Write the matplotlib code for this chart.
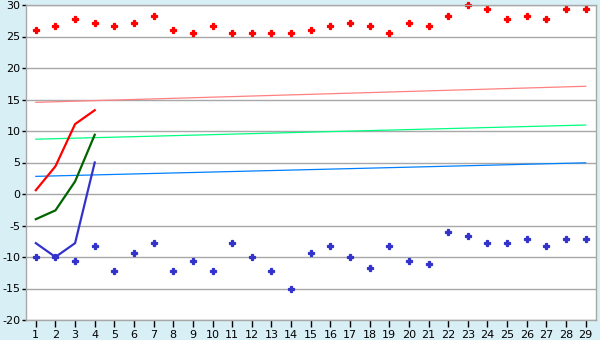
import matplotlib
matplotlib.use("Agg")
import matplotlib.pyplot as plt
import numpy as np

plt.rcParams["axes.unicode_minus"] = False

days = list(range(1, 30))
high_pts = [26.1, 26.7, 27.8, 27.2, 26.7, 27.2, 28.3, 26.1, 25.6, 26.7,
            25.6, 25.6, 25.6, 25.6, 26.1, 26.7, 27.2, 26.7, 25.6, 27.2,
            26.7, 28.3, 30.0, 29.4, 27.8, 28.3, 27.8, 29.4, 29.4]
low_pts = [-10.0, -10.0, -10.6, -8.3, -12.2, -9.4, -7.8, -12.2, -10.6, -12.2,
           -7.8, -10.0, -12.2, -15.0, -9.4, -8.3, -10.0, -11.7, -8.3, -10.6,
           -11.1, -6.1, -6.7, -7.8, -7.8, -7.2, -8.3, -7.2, -7.2]
line_days = [1, 2, 3, 4]
red_line = [0.6, 4.4, 11.1, 13.3]
green_line = [-4.0, -2.6, 2.0, 9.4]
blue_line = [-7.8, -10.0, -7.8, 5.0]
trend_days = [1, 29]
red_trend = [14.55, 17.1]
green_trend = [8.7, 10.95]
blue_trend = [2.8, 4.95]

bg = "#D9EFF6"
grid_c = "#A8A8A8"

fig = plt.figure(figsize=(6, 3.4), dpi=100, facecolor=bg)
ax = fig.add_axes([26/600, 1-320/340, (595.5-26)/600, (320-5)/340])
ax.set_facecolor("white")

ax.plot(days, high_pts, ls="none", marker="P", ms=4.6, color="#FF0000",
        mec="#FF0000", mew=0.9, clip_on=False, zorder=2)
ax.plot(days, low_pts, ls="none", marker="P", ms=4.6, color="#3333CC",
        mec="#3333CC", mew=0.9, clip_on=False, zorder=2)

ax.plot(trend_days, red_trend, color="#FF8080", lw=0.9, zorder=3)
ax.plot(trend_days, green_trend, color="#00FF80", lw=0.9, zorder=3)
ax.plot(trend_days, blue_trend, color="#0080FF", lw=0.9, zorder=3)

ax.plot(line_days, red_line, color="#FF0000", lw=1.6, zorder=4)
ax.plot(line_days, green_line, color="#006400", lw=1.6, zorder=4)
ax.plot(line_days, blue_line, color="#3333CC", lw=1.6, zorder=4)

ax.set_xlim(0.5, 29.5)
ax.set_ylim(-20, 30)
ax.set_xticks(days)
ax.set_yticks(np.arange(-20, 31, 5))
ax.yaxis.grid(True, color=grid_c, lw=1)
ax.set_axisbelow(True)
for s in ax.spines.values():
    s.set_color(grid_c)
    s.set_linewidth(1)
ax.tick_params(axis="x", direction="out", length=5, width=1, color="black",
               labelsize=8, pad=2)
ax.tick_params(axis="y", direction="out", length=3, width=1, color="black",
               labelsize=8, pad=1)

fig.savefig("out.png", dpi=100, facecolor=bg)
